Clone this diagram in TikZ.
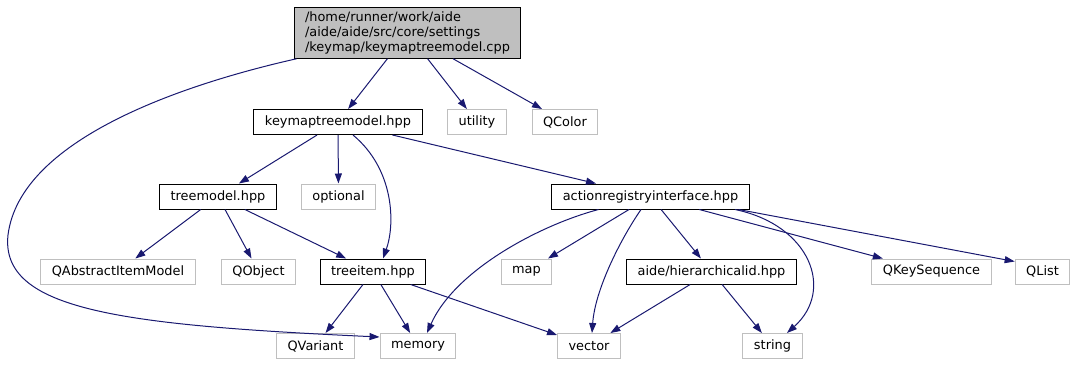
\documentclass[tikz,border=0pt]{standalone}
\usepackage{fontspec}
\setmainfont{DejaVu Sans}
\usetikzlibrary{arrows.meta}
\definecolor{edgeblue}{RGB}{25,25,112}
\definecolor{boxgrey}{RGB}{191,191,191}

\begin{document}
\begin{tikzpicture}[x=1pt, y=-1pt,
    inc/.style={draw=black, rectangle, line width=1pt, minimum height=25pt,
      inner xsep=11pt, inner ysep=0pt, font=\fontsize{12.9}{15}\selectfont},
    sys/.style={inc, draw=boxgrey},
    dep/.style={draw=edgeblue, line width=1pt, -{Triangle[length=10pt,width=7pt]}}]
  \useasboundingbox (0,0) rectangle (1075,365);

  \node[inc, fill=boxgrey, align=left, inner ysep=4pt] (cpp) at (407.5,33)
    {/home/runner/work/aide\\/aide/aide/src/core/settings\\/keymap/keymaptreemodel.cpp};

  \node[inc] (kmh) at (338,122) {keymaptreemodel.hpp};
  \node[sys] (utility) at (477,122) {utility};
  \node[sys] (qcolor) at (565,122) {QColor};

  \node[inc] (treemodel) at (218,196.5) {treemodel.hpp};
  \node[sys] (optional) at (338.5,196.5) {optional};
  \node[inc] (ari) at (650.5,196.5) {actionregistryinterface.hpp};

  \node[sys] (qaim) at (118,271.5) {QAbstractItemModel};
  \node[sys] (qobject) at (258.5,271.5) {QObject};
  \node[inc] (treeitem) at (373,271.5) {treeitem.hpp};
  \node[sys] (map) at (526.5,271.5) {map};
  \node[inc] (hid) at (711.5,271.5) {aide/hierarchicalid.hpp};
  \node[sys] (qkeyseq) at (931.5,271.5) {QKeySequence};
  \node[sys] (qlist) at (1042.5,271.5) {QList};

  \node[sys] (qvariant) at (315.5,346) {QVariant};
  \node[sys] (memory) at (418,346) {memory};
  \node[sys] (vector) at (589,346) {vector};
  \node[sys] (string) at (772.5,346) {string};

  % keymaptreemodel.cpp
  \draw[dep] (cpp) -- (kmh);
  \draw[dep] (cpp) -- (utility);
  \draw[dep] (cpp) -- (qcolor);
  \draw[dep] ([xshift=3pt]cpp.south west) .. controls (180,85) and (20,140) .. (8,235)
    .. controls (0,310) and (120,325) .. ([yshift=-4pt]memory.north west);

  % keymaptreemodel.hpp
  \draw[dep] (kmh) -- (treemodel);
  \draw[dep] (kmh) -- (optional);
  \draw[dep] ([xshift=15pt]kmh.south) .. controls (395,170) and (395,225) .. ([xshift=10pt]treeitem.north);
  \draw[dep] (kmh) -- (ari);

  % treemodel.hpp
  \draw[dep] (treemodel) -- (qaim);
  \draw[dep] (treemodel) -- (qobject);
  \draw[dep] (treemodel) -- (treeitem);

  % treeitem.hpp
  \draw[dep] (treeitem) -- (qvariant);
  \draw[dep] (treeitem) -- (memory);
  \draw[dep] (treeitem) -- (vector);

  % actionregistryinterface.hpp
  \draw[dep] ([xshift=-52pt]ari.south) .. controls (540,225) and (455,270) .. ([xshift=9pt]memory.north);
  \draw[dep] (ari) -- (map);
  \draw[dep] ([xshift=-9.5pt]ari.south) .. controls (620,240) and (595,290) .. ([xshift=3pt]vector.north);
  \draw[dep] (ari) -- (hid);
  \draw[dep] ([xshift=84.5pt]ari.south) .. controls (810,225) and (835,290) .. ([xshift=14.5pt]string.north);
  \draw[dep] (ari) -- (qkeyseq);
  \draw[dep] ([xshift=88pt]ari.south) -- ([yshift=-3pt]qlist.north west);

  % aide/hierarchicalid.hpp
  \draw[dep] (hid) -- (vector);
  \draw[dep] (hid) -- (string);
\end{tikzpicture}
\end{document}
